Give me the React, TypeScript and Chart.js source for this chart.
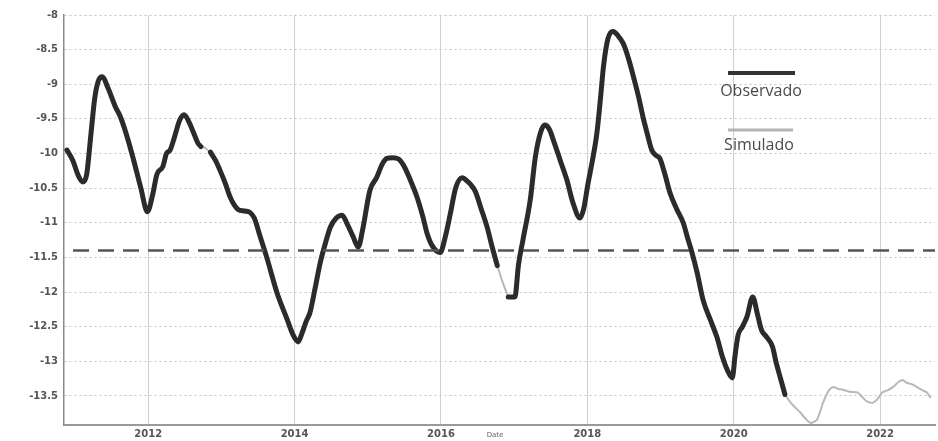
import React, { useEffect, useRef } from "react";
import { Chart, registerables } from "chart.js";

Chart.register(...registerables);

// Observed series: decimal year / value (null marks a break in the record)
const observedYears = [
  2010.89, 2010.97, 2011.05, 2011.11, 2011.16, 2011.22, 2011.27, 2011.32, 2011.37, 2011.45,
  2011.55, 2011.62, 2011.71, 2011.8, 2011.9, 2011.99, 2012.06, 2012.12, 2012.2, 2012.25,
  2012.3, 2012.36, 2012.43, 2012.49, 2012.56, 2012.62, 2012.68, 2012.72, 2012.78, 2012.85,
  2012.92, 2012.98, 2013.05, 2013.12, 2013.18, 2013.23, 2013.32, 2013.39, 2013.45, 2013.53,
  2013.62, 2013.76, 2013.9, 2013.98, 2014.05, 2014.1, 2014.16, 2014.21, 2014.28, 2014.35,
  2014.42, 2014.49, 2014.57, 2014.65, 2014.72, 2014.8, 2014.87, 2014.93, 2015.03, 2015.12,
  2015.2, 2015.26, 2015.34, 2015.42, 2015.5, 2015.58, 2015.67, 2015.75, 2015.81, 2015.88,
  2015.99, 2016.06, 2016.13, 2016.2, 2016.29, 2016.36, 2016.43, 2016.47, 2016.55, 2016.63,
  2016.7, 2016.77, 2016.85, 2016.92, 2017.01, 2017.06, 2017.12, 2017.22, 2017.29, 2017.36,
  2017.42, 2017.48, 2017.55, 2017.63, 2017.72, 2017.8, 2017.9, 2017.95, 2018.01, 2018.07,
  2018.13, 2018.18, 2018.22, 2018.28, 2018.35, 2018.42, 2018.49, 2018.56, 2018.63, 2018.7,
  2018.76, 2018.82, 2018.88, 2018.94, 2018.99, 2019.06, 2019.13, 2019.22, 2019.31, 2019.37,
  2019.43, 2019.5, 2019.58, 2019.68, 2019.77, 2019.85, 2019.91, 2019.98, 2020.02, 2020.06,
  2020.12, 2020.18, 2020.26, 2020.32, 2020.38, 2020.45, 2020.53, 2020.58, 2020.64, 2020.7,
];
const observedValues: (number | null)[] = [
  -9.95, -10.1, -10.33, -10.41, -10.3, -9.7, -9.2, -8.95, -8.89, -9.05,
  -9.32, -9.47, -9.75, -10.09, -10.5, -10.84, -10.6, -10.3, -10.19, -10.0,
  -9.95, -9.76, -9.52, -9.44, -9.55, -9.7, -9.85, -9.9, null, -9.98,
  -10.1, -10.24, -10.42, -10.63, -10.75, -10.81, -10.83, -10.85, -10.93, -11.2,
  -11.5, -12.01, -12.4, -12.62, -12.72, -12.6, -12.42, -12.3, -11.95, -11.58,
  -11.3, -11.06, -10.93, -10.89, -11.02, -11.2, -11.35, -11.1, -10.53, -10.35,
  -10.15, -10.07, -10.06, -10.08, -10.19, -10.38, -10.62, -10.9, -11.15, -11.33,
  -11.43, -11.2, -10.86, -10.5, -10.35, -10.4, -10.48, -10.55, -10.8, -11.06,
  -11.35, -11.62, null, -12.07, -12.07, -11.6, -11.25, -10.67, -10.05, -9.7,
  -9.59, -9.65, -9.85, -10.1, -10.38, -10.7, -10.93, -10.8, -10.43, -10.1,
  -9.71, -9.2, -8.75, -8.35, -8.24, -8.3, -8.41, -8.62, -8.89, -9.18,
  -9.47, -9.72, -9.95, -10.03, -10.07, -10.3, -10.57, -10.8, -11.0, -11.22,
  -11.43, -11.72, -12.11, -12.4, -12.65, -12.95, -13.12, -13.24, -12.9, -12.62,
  -12.5, -12.36, -12.07, -12.3, -12.55, -12.65, -12.79, -13.02, -13.25, -13.48,
];

// Simulated series: fills the breaks and extends past the record
const simulatedYears = [
  2012.7, 2012.78, 2012.87, 2012.9,
  2016.75, 2016.84, 2016.92, 2016.95,
  2020.68, 2020.78, 2020.91, 2021.0, 2021.06, 2021.14, 2021.22, 2021.3, 2021.36, 2021.43,
  2021.49, 2021.58, 2021.69, 2021.76, 2021.82, 2021.9, 2021.96, 2022.03, 2022.1, 2022.18,
  2022.25, 2022.31, 2022.36, 2022.43, 2022.5, 2022.58, 2022.64, 2022.69,
];
const simulatedValues: (number | null)[] = [
  -9.88, -9.92, -10.0, null,
  -11.55, -11.85, -12.07, null,
  -13.45, -13.6, -13.74, -13.85, -13.89, -13.84, -13.6, -13.42, -13.37, -13.4,
  -13.41, -13.44, -13.45, -13.52, -13.58, -13.6, -13.55, -13.45, -13.42, -13.37,
  -13.3, -13.27, -13.31, -13.33, -13.37, -13.42, -13.45, -13.53,
];

const referenceLevel = -11.4;
const xRange = [2010.85, 2022.75];
const yRange = [-13.92, -8];
const xTickValues = [2012, 2014, 2016, 2018, 2020, 2022];
const yTickValues = [-8, -8.5, -9, -9.5, -10, -10.5, -11, -11.5, -12, -12.5, -13, -13.5];
const legendLabels = ["Observado", "Simulado"];
const axisTitle = "Date";

const toPoints = (xs: number[], ys: (number | null)[]) =>
  xs.map((x, i) => ({ x, y: ys[i] }));

const overlayPlugin = {
  id: "overlay",
  afterDraw(chart: any) {
    const { ctx } = chart;
    ctx.save();
    // legend block
    ctx.lineCap = "butt";
    ctx.strokeStyle = "#333333";
    ctx.lineWidth = 4;
    ctx.beginPath();
    ctx.moveTo(728, 73);
    ctx.lineTo(795, 73);
    ctx.stroke();
    ctx.strokeStyle = "#b4b4b4";
    ctx.lineWidth = 3;
    ctx.beginPath();
    ctx.moveTo(728, 130);
    ctx.lineTo(793, 130);
    ctx.stroke();
    ctx.fillStyle = "#4a4a4a";
    ctx.font = '16px "Open Sans", "Noto Sans", sans-serif';
    ctx.textAlign = "center";
    ctx.textBaseline = "middle";
    ctx.fillText(legendLabels[0], 761, 91);
    ctx.fillText(legendLabels[1], 759, 145);
    // axis title
    ctx.fillStyle = "#666666";
    ctx.font = '7px "DejaVu Sans", sans-serif';
    ctx.fillText(axisTitle, 495, 435);
    ctx.restore();
  },
};

export default function App() {
  const canvasRef = useRef<HTMLCanvasElement | null>(null);

  useEffect(() => {
    if (!canvasRef.current) return;
    const tickFont = { family: '"DejaVu Sans", sans-serif', size: 10, weight: "bold" as const };
    const chart = new Chart(canvasRef.current, {
      type: "line",
      data: {
        datasets: [
          {
            label: "Simulado",
            data: toPoints(simulatedYears, simulatedValues),
            borderColor: "#b8b8b8",
            borderWidth: 2,
            pointRadius: 0,
            tension: 0.2,
            spanGaps: false,
            order: 3,
          },
          {
            label: "Observado",
            data: toPoints(observedYears, observedValues),
            borderColor: "#2b2b2b",
            borderWidth: 5,
            pointRadius: 0,
            cubicInterpolationMode: "monotone",
            spanGaps: false,
            borderCapStyle: "round",
            borderJoinStyle: "round",
            order: 2,
          },
          {
            label: "Referencia",
            data: [
              { x: xRange[0], y: referenceLevel },
              { x: xRange[1], y: referenceLevel },
            ],
            borderColor: "#555555",
            borderWidth: 2.5,
            borderDash: [16, 9],
            borderDashOffset: 16,
            pointRadius: 0,
            order: 1,
          },
        ],
      },
      options: {
        animation: false,
        responsive: false,
        maintainAspectRatio: false,
        events: [],
        layout: { padding: { top: 15, right: 3, left: 0, bottom: 0 } },
        plugins: {
          legend: { display: false },
          tooltip: { enabled: false },
        },
        scales: {
          x: {
            type: "linear",
            min: xRange[0],
            max: xRange[1],
            afterBuildTicks: (scale: any) => {
              scale.ticks = xTickValues.map((v) => ({ value: v }));
            },
            afterFit: (scale: any) => {
              scale.height = 16;
            },
            ticks: {
              autoSkip: false,
              maxRotation: 0,
              padding: 3,
              color: "#555555",
              font: tickFont,
              callback: (v: any) => String(v),
            },
            grid: { color: "#cfcfcf", lineWidth: 1, drawTicks: false },
            border: { display: true, color: "#9a9a9a", width: 2 },
          },
          y: {
            type: "linear",
            min: yRange[0],
            max: yRange[1],
            afterBuildTicks: (scale: any) => {
              scale.ticks = yTickValues.map((v) => ({ value: v }));
            },
            afterFit: (scale: any) => {
              scale.width = 64;
            },
            ticks: {
              autoSkip: false,
              padding: 6,
              color: "#555555",
              font: tickFont,
              callback: (v: any) => String(v),
            },
            grid: { color: "#c4c4c4", lineWidth: 1, drawTicks: false },
            border: { display: true, color: "#8a8a8a", width: 1.5, dash: [2, 3] },
          },
        },
      },
      plugins: [overlayPlugin],
    } as any);
    return () => chart.destroy();
  }, []);

  return (
    <div style={{ position: "fixed", left: 0, top: 0, width: 938, height: 441, background: "#ffffff" }}>
      <canvas ref={canvasRef} width={938} height={441} style={{ display: "block" }} />
    </div>
  );
}
